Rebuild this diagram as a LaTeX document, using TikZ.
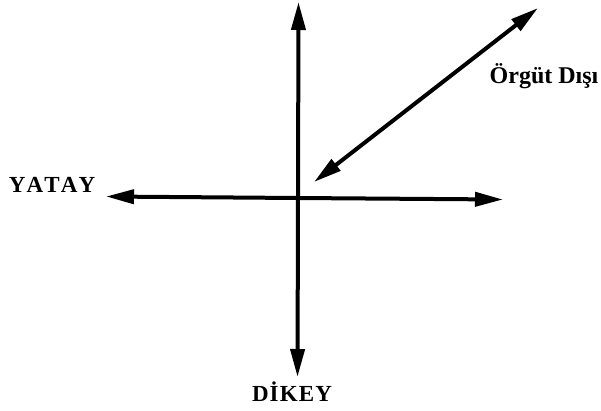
\documentclass[tikz,border=0pt]{standalone}
\usepackage{fontspec}
\setmainfont{Liberation Serif}
\newfontfamily\axisfont{Liberation Serif}[Kerning=Off,LetterSpace=5]
\newfontfamily\sidefont{Liberation Serif}[Kerning=Off]
\usetikzlibrary{arrows.meta}
\tikzset{
  axisline/.style={line width=4pt,-{Triangle[length=28pt,width=14pt]}},
  axislabel/.style={anchor=base,font=\axisfont\bfseries\fontsize{23}{27}\selectfont},
}

\begin{document}
\begin{tikzpicture}[x=1pt,y=-1pt]
  \useasboundingbox (0,0) rectangle (601,410);
  \coordinate (centre) at (298,198);
  \coordinate (up) at (298.5,2);
  \coordinate (down) at (297.5,377);
  \coordinate (left) at (106,196.5);
  \coordinate (right) at (503,199.5);
  \coordinate (inner) at (314,182);
  \coordinate (outer) at (538,8);
  \draw[axisline] (centre) -- (up);
  \draw[axisline] (centre) -- (down);
  \draw[axisline] (centre) -- (left);
  \draw[axisline] (centre) -- (right);
  \draw[axisline,{Triangle[length=28pt,width=14pt]}-{Triangle[length=28pt,width=14pt]}] (inner) -- (outer);
  \node[axislabel] (yatay) at (52,192) {YATAY};
  \node[axislabel] (dikey) at (292,401) {DİKEY};
  \node[axislabel,font=\sidefont\bfseries\fontsize{24}{28}\selectfont] (disi) at (544,83) {Örgüt Dışı};
\end{tikzpicture}
\end{document}
